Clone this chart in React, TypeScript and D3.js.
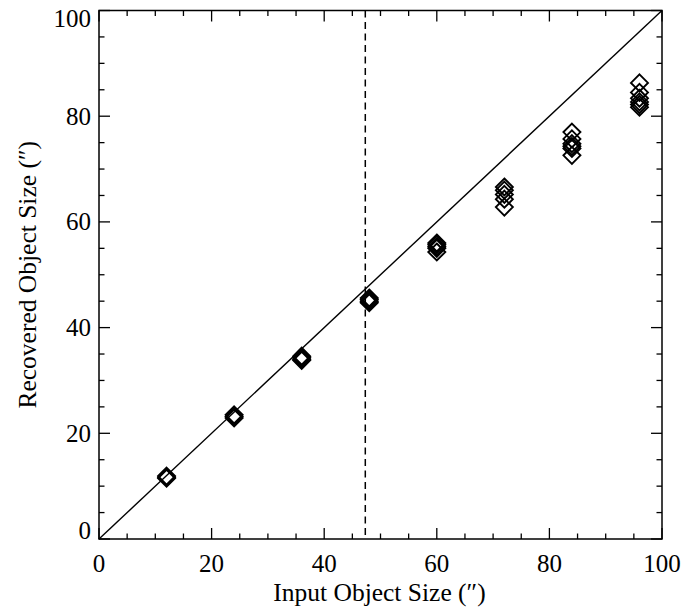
import React from "react";
import * as d3 from "d3";

// Input sizes (arcsec) and the recovered sizes measured at each input
const inputSizes = [12, 24, 36, 48, 60, 72, 84, 96];
const recovered12 = [11.9, 11.7, 11.5];
const recovered24 = [23.5, 23.2, 22.9];
const recovered36 = [34.6, 34.3, 34.0, 33.8];
const recovered48 = [45.6, 45.3, 45.0, 44.7];
const recovered60 = [56.0, 55.7, 55.3, 55.0, 54.3];
const recovered72 = [66.6, 66.0, 65.2, 64.3, 62.8];
const recovered84 = [77.0, 75.7, 74.8, 74.3, 73.9, 72.6];
const recovered96 = [86.3, 84.5, 83.4, 82.7, 82.2, 81.7];
const recoveredBySize = [
  recovered12,
  recovered24,
  recovered36,
  recovered48,
  recovered60,
  recovered72,
  recovered84,
  recovered96,
];

// Resolution limit marked by the dashed line
const limitSize = [47.3];
const oneToOne = [0, 100];

const majorTicks = [0, 20, 40, 60, 80, 100];
const minorTicks = d3.range(0, 101, 5);

const xTitle = "Input Object Size (\u2033)";
const yTitle = "Recovered Object Size (\u2033)";

const W = 686;
const H = 612;
const left = 99;
const right = 662;
const top = 10.5;
const bottom = 539;
const font = "'Liberation Serif', 'Times New Roman', serif";

export default function App() {
  const x = d3.scaleLinear().domain([0, 100]).range([left, right]);
  const y = d3.scaleLinear().domain([0, 100]).range([bottom, top]);

  const points = inputSizes.flatMap((s, i) =>
    recoveredBySize[i].map((v) => ({ s, v }))
  );

  const r = 8.5;
  const diamond = (cx: number, cy: number) =>
    `M${cx},${cy - r}L${cx + r},${cy}L${cx},${cy + r}L${cx - r},${cy}Z`;

  const line = d3
    .line<number>()
    .x((d) => x(d))
    .y((d) => y(d));

  const major = 11;
  const minor = 5.5;

  return (
    <svg
      width={W}
      height={H}
      style={{ position: "absolute", left: 0, top: 0, background: "#fff" }}
      fontFamily={font}
    >
      {/* one-to-one line */}
      <path d={line(oneToOne) ?? ""} stroke="#000" strokeWidth={1.4} fill="none" />

      {/* resolution limit */}
      {limitSize.map((v) => (
        <line
          key={v}
          x1={x(v)}
          x2={x(v)}
          y1={y(100)}
          y2={y(0)}
          stroke="#000"
          strokeWidth={1.5}
          strokeDasharray="7,4.5"
        />
      ))}

      {/* measured sizes */}
      {points.map((p, i) => (
        <path
          key={i}
          d={diamond(x(p.s), y(p.v))}
          fill="none"
          stroke="#000"
          strokeWidth={1.9}
        />
      ))}

      {/* frame */}
      <rect
        x={left}
        y={top}
        width={right - left}
        height={bottom - top}
        fill="none"
        stroke="#000"
        strokeWidth={1.5}
      />

      {/* ticks on all four sides, pointing inward */}
      {minorTicks.map((t) => {
        const len = t % 20 === 0 ? major : minor;
        return (
          <g key={t} stroke="#000" strokeWidth={1.3}>
            <line x1={x(t)} x2={x(t)} y1={bottom} y2={bottom - len} />
            <line x1={x(t)} x2={x(t)} y1={top} y2={top + len} />
            <line x1={left} x2={left + len} y1={y(t)} y2={y(t)} />
            <line x1={right} x2={right - len} y1={y(t)} y2={y(t)} />
          </g>
        );
      })}

      {/* tick labels */}
      {majorTicks.map((t) => (
        <text
          key={"x" + t}
          x={x(t)}
          y={572}
          textAnchor="middle"
          fontSize={25}
          fill="#000"
        >
          {t}
        </text>
      ))}
      {majorTicks.map((t) => {
        let yy = y(t) + 8.5;
        if (t === 0) yy = bottom;
        if (t === 100) yy = top + 16.5;
        return (
          <text
            key={"y" + t}
            x={91}
            y={yy}
            textAnchor="end"
            fontSize={25}
            fill="#000"
          >
            {t}
          </text>
        );
      })}

      {/* axis titles */}
      <text
        x={(left + right) / 2 - 1}
        y={601}
        textAnchor="middle"
        fontSize={25.5}
        fill="#000"
      >
        {xTitle}
      </text>
      <text
        transform={`translate(36,${(top + bottom) / 2}) rotate(-90)`}
        textAnchor="middle"
        fontSize={25.5}
        fill="#000"
      >
        {yTitle}
      </text>
    </svg>
  );
}
